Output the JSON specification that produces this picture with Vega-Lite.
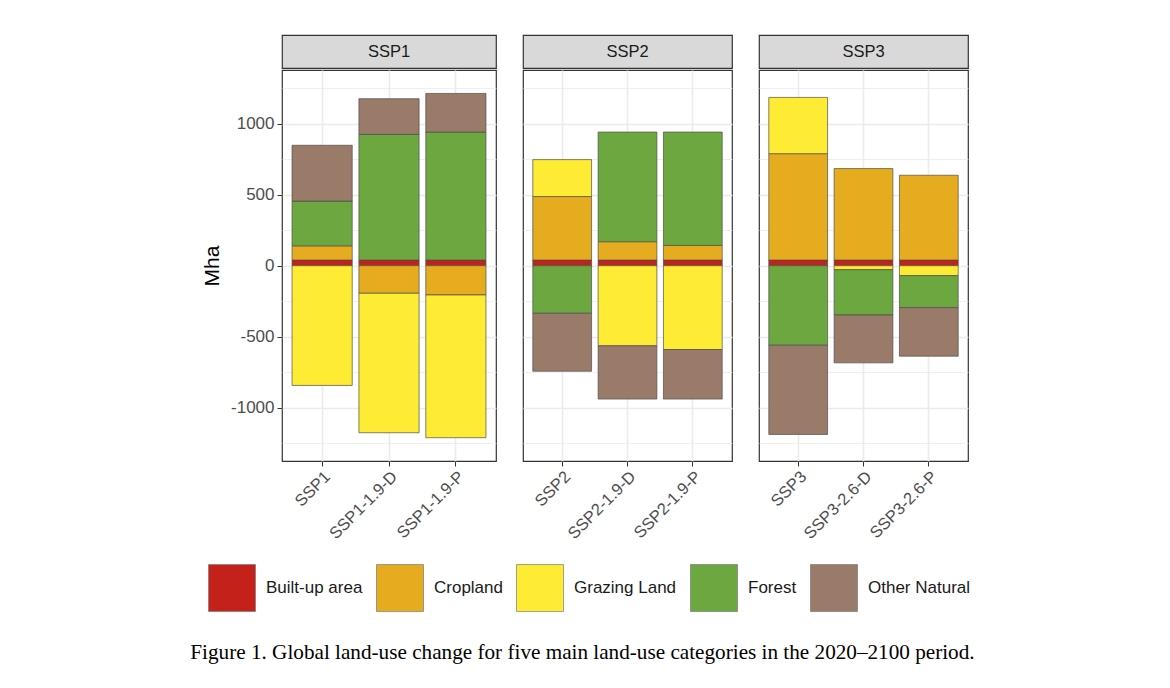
{
  "$schema": "https://vega.github.io/schema/vega-lite/v6.json",
  "padding": {"left": 190, "top": 34, "right": 0, "bottom": 0},
  "background": "white",
  "datasets": {
    "lu": [
      {"panel": "SSP1", "scenario": "SSP1", "category": "Built-up area", "value": 40},
      {"panel": "SSP1", "scenario": "SSP1", "category": "Cropland", "value": 100},
      {"panel": "SSP1", "scenario": "SSP1", "category": "Grazing Land", "value": -843},
      {"panel": "SSP1", "scenario": "SSP1", "category": "Forest", "value": 315},
      {"panel": "SSP1", "scenario": "SSP1", "category": "Other Natural", "value": 393},
      {"panel": "SSP1", "scenario": "SSP1-1.9-D", "category": "Built-up area", "value": 40},
      {"panel": "SSP1", "scenario": "SSP1-1.9-D", "category": "Cropland", "value": -194},
      {"panel": "SSP1", "scenario": "SSP1-1.9-D", "category": "Grazing Land", "value": -982},
      {"panel": "SSP1", "scenario": "SSP1-1.9-D", "category": "Forest", "value": 885},
      {"panel": "SSP1", "scenario": "SSP1-1.9-D", "category": "Other Natural", "value": 251},
      {"panel": "SSP1", "scenario": "SSP1-1.9-P", "category": "Built-up area", "value": 40},
      {"panel": "SSP1", "scenario": "SSP1-1.9-P", "category": "Cropland", "value": -206},
      {"panel": "SSP1", "scenario": "SSP1-1.9-P", "category": "Grazing Land", "value": -1005},
      {"panel": "SSP1", "scenario": "SSP1-1.9-P", "category": "Forest", "value": 901},
      {"panel": "SSP1", "scenario": "SSP1-1.9-P", "category": "Other Natural", "value": 272},
      {"panel": "SSP2", "scenario": "SSP2", "category": "Built-up area", "value": 40},
      {"panel": "SSP2", "scenario": "SSP2", "category": "Cropland", "value": 447},
      {"panel": "SSP2", "scenario": "SSP2", "category": "Grazing Land", "value": 260},
      {"panel": "SSP2", "scenario": "SSP2", "category": "Forest", "value": -335},
      {"panel": "SSP2", "scenario": "SSP2", "category": "Other Natural", "value": -408},
      {"panel": "SSP2", "scenario": "SSP2-1.9-D", "category": "Built-up area", "value": 40},
      {"panel": "SSP2", "scenario": "SSP2-1.9-D", "category": "Cropland", "value": 129},
      {"panel": "SSP2", "scenario": "SSP2-1.9-D", "category": "Grazing Land", "value": -564},
      {"panel": "SSP2", "scenario": "SSP2-1.9-D", "category": "Forest", "value": 772},
      {"panel": "SSP2", "scenario": "SSP2-1.9-D", "category": "Other Natural", "value": -375},
      {"panel": "SSP2", "scenario": "SSP2-1.9-P", "category": "Built-up area", "value": 40},
      {"panel": "SSP2", "scenario": "SSP2-1.9-P", "category": "Cropland", "value": 103},
      {"panel": "SSP2", "scenario": "SSP2-1.9-P", "category": "Grazing Land", "value": -590},
      {"panel": "SSP2", "scenario": "SSP2-1.9-P", "category": "Forest", "value": 798},
      {"panel": "SSP2", "scenario": "SSP2-1.9-P", "category": "Other Natural", "value": -349},
      {"panel": "SSP3", "scenario": "SSP3", "category": "Built-up area", "value": 40},
      {"panel": "SSP3", "scenario": "SSP3", "category": "Cropland", "value": 749},
      {"panel": "SSP3", "scenario": "SSP3", "category": "Grazing Land", "value": 396},
      {"panel": "SSP3", "scenario": "SSP3", "category": "Forest", "value": -560},
      {"panel": "SSP3", "scenario": "SSP3", "category": "Other Natural", "value": -628},
      {"panel": "SSP3", "scenario": "SSP3-2.6-D", "category": "Built-up area", "value": 40},
      {"panel": "SSP3", "scenario": "SSP3-2.6-D", "category": "Cropland", "value": 644},
      {"panel": "SSP3", "scenario": "SSP3-2.6-D", "category": "Grazing Land", "value": -28},
      {"panel": "SSP3", "scenario": "SSP3-2.6-D", "category": "Forest", "value": -319},
      {"panel": "SSP3", "scenario": "SSP3-2.6-D", "category": "Other Natural", "value": -337},
      {"panel": "SSP3", "scenario": "SSP3-2.6-P", "category": "Built-up area", "value": 40},
      {"panel": "SSP3", "scenario": "SSP3-2.6-P", "category": "Cropland", "value": 597},
      {"panel": "SSP3", "scenario": "SSP3-2.6-P", "category": "Grazing Land", "value": -70},
      {"panel": "SSP3", "scenario": "SSP3-2.6-P", "category": "Forest", "value": -225},
      {"panel": "SSP3", "scenario": "SSP3-2.6-P", "category": "Other Natural", "value": -342}
    ],
    "categories": [
      {"category": "Built-up area", "rank": 1},
      {"category": "Cropland", "rank": 2},
      {"category": "Grazing Land", "rank": 3},
      {"category": "Forest", "rank": 4},
      {"category": "Other Natural", "rank": 5}
    ],
    "strips": [{"panel": "SSP1"}, {"panel": "SSP2"}, {"panel": "SSP3"}]
  },
  "hconcat": [
    {
      "vconcat": [
        {
          "width": 214, "height": 33,
          "data": {"name": "strips"},
          "transform": [{"filter": "datum.panel === 'SSP1'"}],
          "view": {"fill": "#d9d9d9", "stroke": "#333333", "strokeWidth": 1.2},
          "mark": {"type": "text", "fontSize": 16.5, "color": "#1a1a1a", "baseline": "middle", "align": "center"},
          "encoding": {"text": {"field": "panel", "type": "nominal"}}
        },
        {
          "width": 214, "height": 391,
          "data": {"name": "lu"},
          "transform": [
            {"filter": "datum.panel === 'SSP1'"},
            {"lookup": "category", "from": {"data": {"name": "categories"}, "key": "category", "fields": ["rank"]}}
          ],
          "mark": {"type": "bar", "stroke": "#4d4d4d", "strokeWidth": 0.7},
          "encoding": {
            "x": {"field": "scenario", "type": "nominal", "sort": ["SSP1", "SSP1-1.9-D", "SSP1-1.9-P"],
                  "scale": {"paddingInner": 0.1, "paddingOuter": 0.15}},
            "y": {"field": "value", "type": "quantitative", "stack": "zero",
                  "scale": {"domain": [-1375, 1378], "nice": false, "zero": false},
                  "axis": {
                    "values": [-1250, -1000, -750, -500, -250, 0, 250, 500, 750, 1000, 1250],
                    "labelExpr": "datum.value % 500 === 0 ? '' + datum.value : ''",
                    "title": "Mha", "titleFontSize": 21, "titleFontWeight": "normal", "titleColor": "#000000",
                    "titlePadding": 8, "titleFont": "Liberation Sans",
                    "labelFontSize": 17, "labelColor": "#4d4d4d", "labelPadding": 3,
                    "tickSize": 5, "tickColor": "#333333",
                    "tickOpacity": {"condition": {"test": "datum.value % 500 === 0", "value": 1}, "value": 0},
                    "domain": false,
                    "grid": true, "gridColor": "#ebebeb",
                    "gridWidth": {"condition": {"test": "datum.value % 500 === 0", "value": 1.6}, "value": 0.8}
                  }},
            "color": {"field": "category", "type": "nominal",
                      "scale": {"domain": ["Built-up area", "Cropland", "Grazing Land", "Forest", "Other Natural"],
                                "range": ["#c4211b", "#e6ac1f", "#fdeb34", "#6ca83f", "#9a7b69"]}},
            "order": {"field": "rank", "type": "quantitative", "sort": "ascending"}
          }
        }
      ],
      "spacing": 0
    },
    {
      "vconcat": [
        {
          "width": 209, "height": 33,
          "data": {"name": "strips"},
          "transform": [{"filter": "datum.panel === 'SSP2'"}],
          "view": {"fill": "#d9d9d9", "stroke": "#333333", "strokeWidth": 1.2},
          "mark": {"type": "text", "fontSize": 16.5, "color": "#1a1a1a", "baseline": "middle", "align": "center"},
          "encoding": {"text": {"field": "panel", "type": "nominal"}}
        },
        {
          "width": 209, "height": 391,
          "data": {"name": "lu"},
          "transform": [
            {"filter": "datum.panel === 'SSP2'"},
            {"lookup": "category", "from": {"data": {"name": "categories"}, "key": "category", "fields": ["rank"]}}
          ],
          "mark": {"type": "bar", "stroke": "#4d4d4d", "strokeWidth": 0.7},
          "encoding": {
            "x": {"field": "scenario", "type": "nominal", "sort": ["SSP2", "SSP2-1.9-D", "SSP2-1.9-P"],
                  "scale": {"paddingInner": 0.1, "paddingOuter": 0.15}},
            "y": {"field": "value", "type": "quantitative", "stack": "zero",
                  "scale": {"domain": [-1375, 1378], "nice": false, "zero": false},
                  "axis": {
                    "values": [-1250, -1000, -750, -500, -250, 0, 250, 500, 750, 1000, 1250],
                    "labels": false, "ticks": false, "domain": false, "title": null,
                    "grid": true, "gridColor": "#ebebeb",
                    "gridWidth": {"condition": {"test": "datum.value % 500 === 0", "value": 1.6}, "value": 0.8}
                  }},
            "color": {"field": "category", "type": "nominal",
                      "scale": {"domain": ["Built-up area", "Cropland", "Grazing Land", "Forest", "Other Natural"],
                                "range": ["#c4211b", "#e6ac1f", "#fdeb34", "#6ca83f", "#9a7b69"]}},
            "order": {"field": "rank", "type": "quantitative", "sort": "ascending"}
          }
        }
      ],
      "spacing": 0
    },
    {
      "vconcat": [
        {
          "width": 209, "height": 33,
          "data": {"name": "strips"},
          "transform": [{"filter": "datum.panel === 'SSP3'"}],
          "view": {"fill": "#d9d9d9", "stroke": "#333333", "strokeWidth": 1.2},
          "mark": {"type": "text", "fontSize": 16.5, "color": "#1a1a1a", "baseline": "middle", "align": "center"},
          "encoding": {"text": {"field": "panel", "type": "nominal"}}
        },
        {
          "width": 209, "height": 391,
          "data": {"name": "lu"},
          "transform": [
            {"filter": "datum.panel === 'SSP3'"},
            {"lookup": "category", "from": {"data": {"name": "categories"}, "key": "category", "fields": ["rank"]}}
          ],
          "mark": {"type": "bar", "stroke": "#4d4d4d", "strokeWidth": 0.7},
          "encoding": {
            "x": {"field": "scenario", "type": "nominal", "sort": ["SSP3", "SSP3-2.6-D", "SSP3-2.6-P"],
                  "scale": {"paddingInner": 0.1, "paddingOuter": 0.15}},
            "y": {"field": "value", "type": "quantitative", "stack": "zero",
                  "scale": {"domain": [-1375, 1378], "nice": false, "zero": false},
                  "axis": {
                    "values": [-1250, -1000, -750, -500, -250, 0, 250, 500, 750, 1000, 1250],
                    "labels": false, "ticks": false, "domain": false, "title": null,
                    "grid": true, "gridColor": "#ebebeb",
                    "gridWidth": {"condition": {"test": "datum.value % 500 === 0", "value": 1.6}, "value": 0.8}
                  }},
            "color": {"field": "category", "type": "nominal",
                      "scale": {"domain": ["Built-up area", "Cropland", "Grazing Land", "Forest", "Other Natural"],
                                "range": ["#c4211b", "#e6ac1f", "#fdeb34", "#6ca83f", "#9a7b69"]}},
            "order": {"field": "rank", "type": "quantitative", "sort": "ascending"}
          }
        }
      ],
      "spacing": 0
    }
  ],
  "spacing": 25,
  "resolve": {"scale": {"color": "shared", "y": "independent", "x": "independent"}},
  "title": {
    "text": "Figure 1. Global land-use change for five main land-use categories in the 2020–2100 period.",
    "orient": "bottom", "anchor": "middle", "frame": "bounds", "font": "Liberation Serif", "fontSize": 21.2,
    "fontWeight": "normal", "color": "#000000", "offset": 29, "dx": -3.5
  },
  "config": {
    "font": "Liberation Sans",
    "view": {"stroke": "#333333", "strokeWidth": 1.2},
    "axisX": {
      "title": null, "labelAngle": -45, "labelFontSize": 16.5, "labelColor": "#4d4d4d",
      "labelFont": "Liberation Sans", "tickColor": "#333333", "tickSize": 5, "domain": false,
      "grid": true, "gridColor": "#ebebeb", "gridWidth": 1.6, "bandPosition": 0.5, "labelPadding": 2
    },
    "axisY": {"labelFont": "Liberation Sans"},
    "legend": {
      "orient": "none", "legendX": -74, "legendY": 529, "direction": "horizontal", "title": null,
      "symbolType": "square", "symbolSize": 2209, "symbolStrokeColor": "#7a7a7a", "symbolStrokeWidth": 0.7,
      "symbolOpacity": 1,
      "labelFontSize": 17, "labelColor": "#1a1a1a", "labelFont": "Liberation Sans",
      "labelOffset": 10, "columnPadding": 12
    }
  }
}
